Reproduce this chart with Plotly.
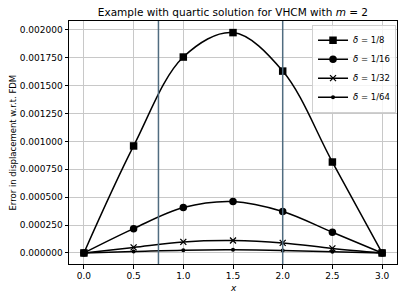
import plotly.graph_objects as go

x_vals = [0.0, 0.5, 1.0, 1.5, 2.0, 2.5, 3.0]
err_d8 = [0.0, 0.000959, 0.001756, 0.001975, 0.001630, 0.000815, 0.0]
err_d16 = [0.0, 0.000218, 0.000407, 0.000461, 0.000371, 0.000185, 0.0]
err_d32 = [0.0, 0.000050, 0.000099, 0.000111, 0.000090, 0.000041, 0.0]
err_d64 = [0.0, 0.0000125, 0.000025, 0.000028, 0.0000225, 0.0000104, 0.0]
labels = ["<i>δ</i> = 1/8", "<i>δ</i> = 1/16", "<i>δ</i> = 1/32", "<i>δ</i> = 1/64"]
vlines = [0.75, 2.0]
x_ticks = [0.0, 0.5, 1.0, 1.5, 2.0, 2.5, 3.0]
y_ticks = [0.0, 0.00025, 0.0005, 0.00075, 0.001, 0.00125, 0.0015, 0.00175, 0.002]

series = [err_d8, err_d16, err_d32, err_d64]
symbols = ["square", "circle", "x-thin", "circle"]
sizes = [7.5, 7.5, 6, 4]

fig = go.Figure()
for ys, lab, sym, sz in zip(series, labels, symbols, sizes):
    fig.add_trace(go.Scatter(
        x=x_vals, y=ys, name=lab, mode="lines+markers",
        line=dict(color="black", width=1.5, shape="spline", smoothing=1.0),
        marker=dict(symbol=sym, size=sz, color="black",
                    line=dict(color="black", width=1.3 if sym == "x-thin" else 0)),
    ))

for xv in vlines:
    fig.add_shape(type="line", xref="x", yref="paper", x0=xv, x1=xv, y0=0, y1=1,
                  line=dict(color="rgb(80,108,128)", width=1.5), layer="above")

axis_common = dict(
    showline=True, linecolor="black", linewidth=1, mirror=True,
    ticks="outside", ticklen=3.5, tickwidth=1, tickcolor="black",
    showgrid=True, gridcolor="#c8c8c8", gridwidth=1, zeroline=False,
    automargin=False,
    tickfont=dict(family="DejaVu Sans", size=9, color="black"),
)

fig.update_layout(
    width=403, height=299,
    margin=dict(l=69, r=6, t=21, b=35),
    paper_bgcolor="white", plot_bgcolor="white",
    title=dict(text="Example with quartic solution for VHCM with <i>m</i> = 2",
               x=0.578, xanchor="center", y=0.96, yanchor="middle",
               font=dict(family="DejaVu Sans", size=10.5, color="black")),
    xaxis=dict(range=[-0.15, 3.15], tickvals=x_ticks,
               ticktext=[f"{v:.1f}" for v in x_ticks], **axis_common),
    yaxis=dict(range=[-0.000099, 0.002079], tickvals=y_ticks,
               ticktext=[f"{v:.6f}" for v in y_ticks], **axis_common),
    legend=dict(x=0.997, y=0.985, xanchor="right", yanchor="top",
                bgcolor="rgba(255,255,255,0.8)", bordercolor="#d0d0d0", borderwidth=1,
                font=dict(family="DejaVu Sans", size=8.5, color="black"),
                tracegroupgap=0, itemwidth=30),
    showlegend=True,
    annotations=[
        dict(text="<i>x</i>", xref="paper", yref="paper", x=0.5, y=0.0, yshift=-17,
             xanchor="center", yanchor="top", showarrow=False,
             font=dict(family="DejaVu Sans", size=9, color="black")),
        dict(text="Error in displacement w.r.t. FDM", xref="paper", yref="paper",
             x=0, xshift=-57, y=0.5, xanchor="center", yanchor="middle", textangle=-90,
             showarrow=False, font=dict(family="DejaVu Sans", size=8.5, color="black")),
    ],
)

fig.write_html("out.html", config={"displayModeBar": False},
               post_script="document.body.style.margin='0';")
